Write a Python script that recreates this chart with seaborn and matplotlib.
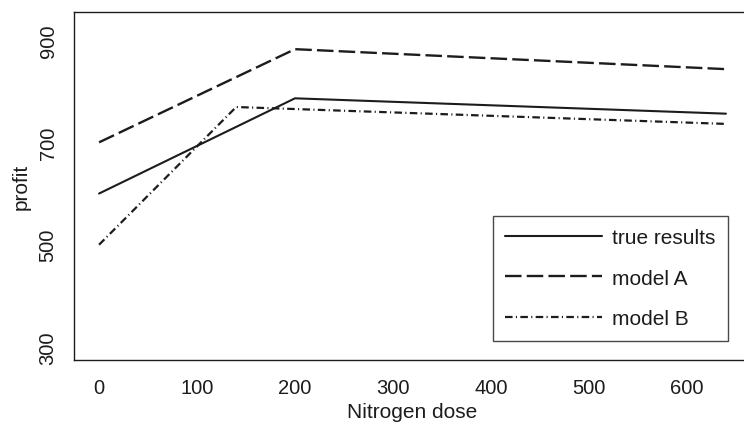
import matplotlib
matplotlib.use("Agg")
import matplotlib.pyplot as plt
import seaborn as sns
import pandas as pd

# Profit response to nitrogen dose: observed values and two fitted models
true_dose = [0, 200, 640]
true_profit = [600, 786, 756]

model_a_dose = [0, 200, 640]
model_a_profit = [700, 882, 843]

model_b_dose = [0, 140, 640]
model_b_profit = [500, 769, 736]

series_labels = ["true results", "model A", "model B"]
y_ticks = [300, 400, 500, 600, 700, 800, 900]
y_tick_labels = ["300", "", "500", "", "700", "", "900"]
x_ticks = [0, 100, 200, 300, 400, 500, 600]

sns.set_theme(style="white")
plt.rcParams["font.family"] = ["Liberation Sans", "DejaVu Sans"]

ink = "#1c1c1c"
fig = plt.figure(figsize=(7.44, 4.27), dpi=100)
ax = fig.add_axes([74 / 744, 1 - 361 / 427, (751 - 74) / 744, (361 - 12.7) / 427])

styles = [
    dict(linestyle="-", linewidth=1.5),
    dict(linestyle=(0, (7, 2.2)), linewidth=1.7),
    dict(linestyle=(0, (3.4, 1.5, 0.5, 1.5)), linewidth=1.6),
]
series = [
    (true_dose, true_profit),
    (model_a_dose, model_a_profit),
    (model_b_dose, model_b_profit),
]
for (xs, ys), label, st in zip(series, series_labels, styles):
    df = pd.DataFrame({"dose": xs, "profit": ys})
    sns.lineplot(data=df, x="dose", y="profit", ax=ax, color=ink,
                 label=label, **st)

ax.set_xlim(-25.6, 665.6)
ax.set_ylim(274.8, 955.2)
ax.set_xticks(x_ticks)
ax.set_xticklabels([str(v) for v in x_ticks])
ax.set_yticks(y_ticks)
ax.set_yticklabels(y_tick_labels, rotation=90, va="center")

ax.tick_params(axis="both", direction="out", length=5.3, width=0.9,
               color=ink, labelsize=14.5, labelcolor=ink)
ax.tick_params(axis="x", pad=8)
ax.tick_params(axis="y", pad=6.5)
for sp in ax.spines.values():
    sp.set_color(ink)
    sp.set_linewidth(1.0)

ax.set_xlabel("Nitrogen dose", fontsize=15, color=ink, labelpad=3.5)
ax.set_ylabel("profit", fontsize=15, color=ink, labelpad=6)

leg = ax.legend(loc="upper left", bbox_to_anchor=(492.7 / 744, 1 - 217 / 427),
                bbox_transform=fig.transFigure, borderaxespad=0,
                frameon=True, fancybox=False, edgecolor=ink, fontsize=15,
                handlelength=4.65, handletextpad=0.5, labelspacing=1.02,
                borderpad=0.6)
leg.get_frame().set_linewidth(1.0)
for t in leg.get_texts():
    t.set_color(ink)

fig.savefig("out.png", dpi=100)
